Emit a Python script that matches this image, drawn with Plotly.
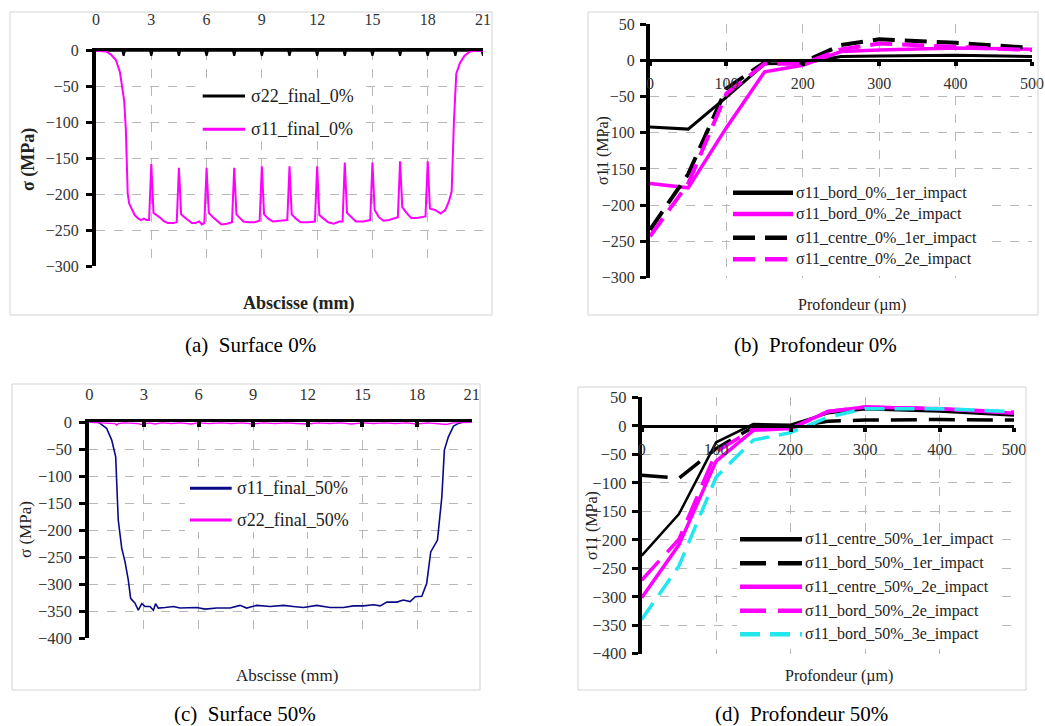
import plotly.graph_objects as go

W, H = 1045, 726
FONT = "Liberation Serif, Times New Roman, Times, serif"


def px(x):
    return x / W


def py(y):
    return 1 - y / H


# ---------------- (a) Surface 0% ----------------
a_s11_x = [0, 0.3, 0.55, 0.8, 1.08, 1.3, 1.4, 1.53, 1.62, 1.68, 1.72, 1.8, 1.95, 2.1, 2.3, 2.45,
           2.6, 2.75, 2.88, 3.0, 3.12, 3.3, 3.5, 3.7, 3.9, 4.2, 4.38, 4.5, 4.62, 4.8, 5.0, 5.2,
           5.4, 5.6, 5.75, 5.88, 6.0, 6.12, 6.35, 6.6, 6.8, 7.1, 7.38, 7.5, 7.62, 7.8, 8.0, 8.3,
           8.6, 8.88, 9.0, 9.12, 9.35, 9.6, 9.9, 10.2, 10.38, 10.5, 10.62, 10.85, 11.1, 11.5,
           11.88, 12.0, 12.12, 12.35, 12.6, 12.9, 13.2, 13.38, 13.5, 13.62, 13.85, 14.1, 14.5,
           14.88, 15.0, 15.12, 15.35, 15.6, 15.9, 16.2, 16.38, 16.5, 16.62, 16.85, 17.1, 17.4,
           17.75, 17.88, 18.0, 18.12, 18.4, 18.7, 18.95, 19.15, 19.3, 19.42, 19.55, 19.75, 20.0,
           20.3, 20.6, 21.0]
a_s11_y = [0, 0, -1, -5, -13, -30, -50, -70, -110, -150, -199, -213, -222, -229, -234, -236,
           -234, -236, -236, -158, -226, -229, -233, -238, -240, -240, -239, -163, -228, -232,
           -236, -240, -240, -238, -242, -240, -163, -226, -232, -238, -242, -241, -239, -163,
           -228, -233, -238, -239, -239, -237, -161, -228, -234, -238, -237, -236, -236, -161,
           -228, -234, -239, -239, -238, -161, -229, -234, -239, -241, -238, -238, -156, -226,
           -232, -238, -238, -236, -156, -222, -232, -237, -236, -234, -232, -154, -218, -226,
           -233, -233, -231, -231, -154, -220, -222, -227, -222, -210, -196, -100, -32, -17,
           -7, -1, 0, 0]
a_s22_x = [0, 1.43, 1.5, 1.57, 2.93, 3.0, 3.07, 4.43, 4.5, 4.57, 5.93, 6.0, 6.07, 7.43, 7.5,
           7.57, 8.93, 9.0, 9.07, 10.43, 10.5, 10.57, 11.93, 12.0, 12.07, 13.43, 13.5, 13.57,
           14.93, 15.0, 15.07, 16.43, 16.5, 16.57, 17.93, 18.0, 18.07, 19.43, 19.5, 19.57,
           20.93, 21.0]
a_s22_y = [0, 0, -7, 0, 0, -7, 0, 0, -7, 0, 0, -7, 0, 0, -7, 0, 0, -7, 0, 0, -7, 0, 0, -7, 0,
           0, -7, 0, 0, -7, 0, 0, -7, 0, 0, -7, 0, 0, -7, 0, 0, -7]

# ---------------- (b) Profondeur 0% ----------------
b_depth = [0, 50, 100, 150, 200, 250, 300, 400, 500]
b_bord_1er = [-92, -95, -51, -5, -4, 5, 6, 7, 5]
b_bord_2e = [-170, -176, -93, -16, -7, 12, 14, 17, 15]
b_centre_1er = [-234, -157, -39, -3, -3, 21, 29, 24, 17]
b_centre_2e = [-243, -170, -46, -5, -5, 15, 23, 18, 14]

# ---------------- (c) Surface 50% ----------------
c_s11_x = [0, 0.5, 0.59, 0.95, 1.23, 1.45, 1.5, 1.59, 1.78, 1.96, 2.14, 2.27, 2.51, 2.69, 2.88,
           3.06, 3.33, 3.52, 3.64, 3.79, 4.16, 4.62, 4.98, 5.53, 5.9, 6.36, 7.0, 7.73, 8.28,
           8.64, 9.19, 9.93, 10.66, 11.2, 11.76, 12.49, 13.22, 13.96, 14.5, 15.05, 15.6, 15.97,
           16.34, 16.89, 17.25, 17.62, 17.9, 18.26, 18.53, 18.75, 19.12, 19.36, 19.5, 19.72,
           20.0, 20.27, 20.5, 21.0]
c_s11_y = [0, 0, -2, -11, -33, -64, -107, -181, -233, -258, -292, -326, -335, -348, -336, -341,
           -341, -348, -336, -344, -343, -341, -344, -344, -343, -346, -344, -344, -339, -344,
           -339, -341, -339, -341, -343, -339, -343, -343, -340, -340, -338, -340, -333, -333,
           -329, -332, -323, -322, -298, -240, -218, -138, -51, -27, -7, -2, 0, 0]
c_s22_x = [0, 0.5, 1.0, 1.4, 1.5, 1.6, 2.0, 2.6, 2.9, 3.3, 3.6, 4.0, 4.5, 5.0, 5.6, 6.0, 6.6,
           7.2, 7.8, 8.4, 9.0, 9.6, 10.2, 10.8, 11.4, 12.0, 12.6, 13.2, 13.8, 14.4, 15.0, 15.6,
           16.2, 16.8, 17.4, 18.0, 18.6, 19.2, 19.6, 20.0, 20.5, 21.0]
c_s22_y = [0, -1, -1, -2, -5, -2, -1, -2, -4, -1, -3, -1, -2, -1, -3, -1, -2, -1, -2, -1, -3,
           -1, -2, -1, -2, -3, -1, -2, -1, -3, -1, -2, -1, -2, -1, -3, -1, -2, -4, -1, -1, 0]

# ---------------- (d) Profondeur 50% ----------------
d_depth = [0, 50, 100, 150, 200, 250, 300, 400, 500]
d_centre_1er = [-228, -155, -29, 3, 2, 22, 29, 25, 18]
d_bord_1er = [-87, -92, -40, -2, -3, 8, 10, 11, 10]
d_centre_2e = [-302, -209, -62, -8, -5, 25, 33, 30, 22]
d_bord_2e = [-271, -199, -46, -5, -5, 25, 33, 30, 24]
d_bord_3e = [-340, -246, -90, -25, -12, 15, 30, 30, 25]

a_xticks = [0, 3, 6, 9, 12, 15, 18, 21]
depth_ticks = [0, 100, 200, 300, 400, 500]

# ---------------- traces ----------------
MAG = "#ff00ff"
CYAN = "#22e8ee"
NAVY = "#0a0a86"

fig = go.Figure()
# (a)
fig.add_trace(go.Scatter(x=a_s22_x, y=a_s22_y, name="σ22_final_0%", mode="lines",
                         line=dict(color="black", width=2), xaxis="x", yaxis="y"))
fig.add_trace(go.Scatter(x=a_s11_x, y=a_s11_y, name="σ11_final_0%", mode="lines",
                         line=dict(color=MAG, width=2), xaxis="x", yaxis="y"))
# (b)
b_series = [
    ("σ11_bord_0%_1er_impact", b_bord_1er, "black", "solid", 3),
    ("σ11_bord_0%_2e_impact", b_bord_2e, MAG, "solid", 3.5),
    ("σ11_centre_0%_1er_impact", b_centre_1er, "black", "22px,10px", 4),
    ("σ11_centre_0%_2e_impact", b_centre_2e, MAG, "22px,10px", 4),
]
for name, ys, col, dash, w in b_series:
    fig.add_trace(go.Scatter(x=b_depth, y=ys, name=name, mode="lines",
                             line=dict(color=col, width=w, dash=dash), xaxis="x2", yaxis="y2"))
# (c)
fig.add_trace(go.Scatter(x=c_s11_x, y=c_s11_y, name="σ11_final_50%", mode="lines",
                         line=dict(color=NAVY, width=1.6), xaxis="x3", yaxis="y3"))
fig.add_trace(go.Scatter(x=c_s22_x, y=c_s22_y, name="σ22_final_50%", mode="lines",
                         line=dict(color=MAG, width=1.5), xaxis="x3", yaxis="y3"))
# (d)
d_series = [
    ("σ11_centre_50%_1er_impact", d_centre_1er, "black", "solid", 2.5),
    ("σ11_bord_50%_1er_impact", d_bord_1er, "black", "26px,12px", 3.5),
    ("σ11_centre_50%_2e_impact", d_centre_2e, MAG, "solid", 3.5),
    ("σ11_bord_50%_2e_impact", d_bord_2e, MAG, "26px,12px", 3.5),
    ("σ11_bord_50%_3e_impact", d_bord_3e, CYAN, "20px,10px", 3.5),
]
for name, ys, col, dash, w in d_series:
    fig.add_trace(go.Scatter(x=d_depth, y=ys, name=name, mode="lines",
                             line=dict(color=col, width=w, dash=dash), xaxis="x4", yaxis="y4"))


# ---------------- axes ----------------
def ax(size=16, **kw):
    base = dict(showgrid=True, gridcolor="#b8b8b8", griddash="dash", gridwidth=1,
                zeroline=False, showline=True, linecolor="black", automargin=False,
                tickfont=dict(family=FONT, size=size, color="#333333"), tickcolor="black")
    base.update(kw)
    return base


layout_axes = dict(
    xaxis=ax(domain=[px(96), px(483)], range=[0, 21], tickvals=a_xticks, side="top",
             anchor="y", linewidth=3, ticks="", ticklabelstandoff=16),
    yaxis=ax(domain=[py(266), py(50.7)], range=[-300, 0], dtick=50, anchor="x",
             linewidth=4, ticks="outside", ticklen=6, tickwidth=3, ticklabelstandoff=4),
    xaxis2=ax(domain=[px(650), px(1032)], range=[0, 500], tickvals=depth_ticks,
              anchor="free", position=py(60.3), side="bottom", linewidth=3,
              ticks="outside", ticklen=4, tickwidth=4, ticklabelstandoff=3),
    yaxis2=ax(domain=[py(277.7), py(24)], range=[-300, 50], dtick=50, anchor="x2",
              linewidth=4, ticks="outside", ticklen=6, tickwidth=3, ticklabelstandoff=2),
    xaxis3=ax(size=16.5, domain=[px(89.3), px(471.7)], range=[0, 21], tickvals=a_xticks,
              side="top", anchor="y3", linewidth=3, ticks="inside", ticklen=5, tickwidth=4,
              ticklabelstandoff=13),
    yaxis3=ax(size=16.5, domain=[py(638.3), py(422.3)], range=[-400, 0], dtick=50,
              anchor="x3", linewidth=4, ticks="outside", ticklen=6, tickwidth=3,
              ticklabelstandoff=4),
    xaxis4=ax(size=16.5, domain=[px(641.7), px(1014)], range=[0, 500], tickvals=depth_ticks,
              anchor="free", position=py(425.7), side="bottom", linewidth=3,
              ticks="outside", ticklen=4, tickwidth=4, ticklabelstandoff=3),
    yaxis4=ax(size=16.5, domain=[py(653.7), py(397.3)], range=[-400, 50], dtick=50,
              anchor="x4", linewidth=4, ticks="outside", ticklen=6, tickwidth=3,
              ticklabelstandoff=2),
)

shapes = []
annotations = []

# panel frames
for (x0, y0, x1, y1) in [(10, 12, 492, 315), (588, 12, 1038, 315),
                         (12, 384, 480, 690), (578, 387, 1026, 690)]:
    shapes.append(dict(type="rect", xref="paper", yref="paper", x0=px(x0), x1=px(x1),
                       y0=py(y1), y1=py(y0), line=dict(color="#d4d4d4", width=1),
                       fillcolor="rgba(0,0,0,0)", layer="above"))


def legend(box, rows, x_line0, x_line1, x_text, fsize, entries):
    bx0, by0, bx1, by1 = box
    shapes.append(dict(type="rect", xref="paper", yref="paper", x0=px(bx0), x1=px(bx1),
                       y0=py(by1), y1=py(by0), line=dict(width=0), fillcolor="white",
                       layer="above"))
    for yrow, (name, col, dash, w) in zip(rows, entries):
        shapes.append(dict(type="line", xref="paper", yref="paper", x0=px(x_line0),
                           x1=px(x_line1), y0=py(yrow), y1=py(yrow),
                           line=dict(color=col, width=w, dash=dash), layer="above"))
        annotations.append(dict(xref="paper", yref="paper", x=px(x_text), y=py(yrow),
                                xanchor="left", yanchor="middle", text=name, showarrow=False,
                                font=dict(family=FONT, size=fsize, color="#222222")))


legend((200, 85, 358, 140), [96, 129.3], 202.7, 245, 249, 18,
       [("σ22_final_0%", "black", "solid", 3), ("σ11_final_0%", MAG, "solid", 3)])
legend((730, 183, 983, 268), [192.7, 214, 237.7, 259.3], 733, 793, 794, 16,
       [(n, c, d, 4.5) for n, _, c, d, _ in b_series])
legend((185, 477, 357, 532), [488.3, 520], 190, 231.7, 235, 18,
       [("σ11_final_50%", NAVY, "solid", 3), ("σ22_final_50%", MAG, "solid", 3)])
legend((737, 532, 995, 642), [539.3, 563.3, 586.7, 610.7, 634.3], 740, 802, 803, 16,
       [(n, c, d, 4.5) for n, _, c, d, _ in d_series])


def label(x, y, text, size, bold=False, angle=0, color="#222222"):
    t = f"<b>{text}</b>" if bold else text
    annotations.append(dict(xref="paper", yref="paper", x=px(x), y=py(y), text=t,
                            showarrow=False, textangle=angle, xanchor="center",
                            yanchor="middle", font=dict(family=FONT, size=size, color=color)))


# axis titles
label(298, 303, "Abscisse (mm)", 18, bold=True)
label(28, 160, "σ (MPa)", 18, bold=True, angle=-90)
label(852, 305, "Profondeur (µm)", 16)
label(603, 151, "σ11 (MPa)", 16, angle=-90)
label(287, 675, "Abscisse (mm)", 17)
label(25, 530, "σ (MPa)", 17, angle=-90)
label(839, 676, "Profondeur (µm)", 16)
label(592, 526, "σ11 (MPa)", 16, angle=-90)

# captions
label(250, 345, "(a)\u00a0 Surface 0%", 21, color="black")
label(815, 345, "(b)\u00a0 Profondeur 0%", 21, color="black")
label(245, 714, "(c)\u00a0 Surface 50%", 21, color="black")
label(801, 714, "(d)\u00a0 Profondeur 50%", 21, color="black")

fig.update_layout(
    width=W, height=H, margin=dict(l=0, r=0, t=0, b=0, autoexpand=False),
    paper_bgcolor="white", plot_bgcolor="white", showlegend=False,
    shapes=shapes, annotations=annotations, **layout_axes,
)

fig.write_html("out.html", config={"displayModeBar": False},
               post_script="document.documentElement.style.margin='0';"
                           "document.body.style.margin='0';"
                           "document.body.style.overflow='hidden';")
